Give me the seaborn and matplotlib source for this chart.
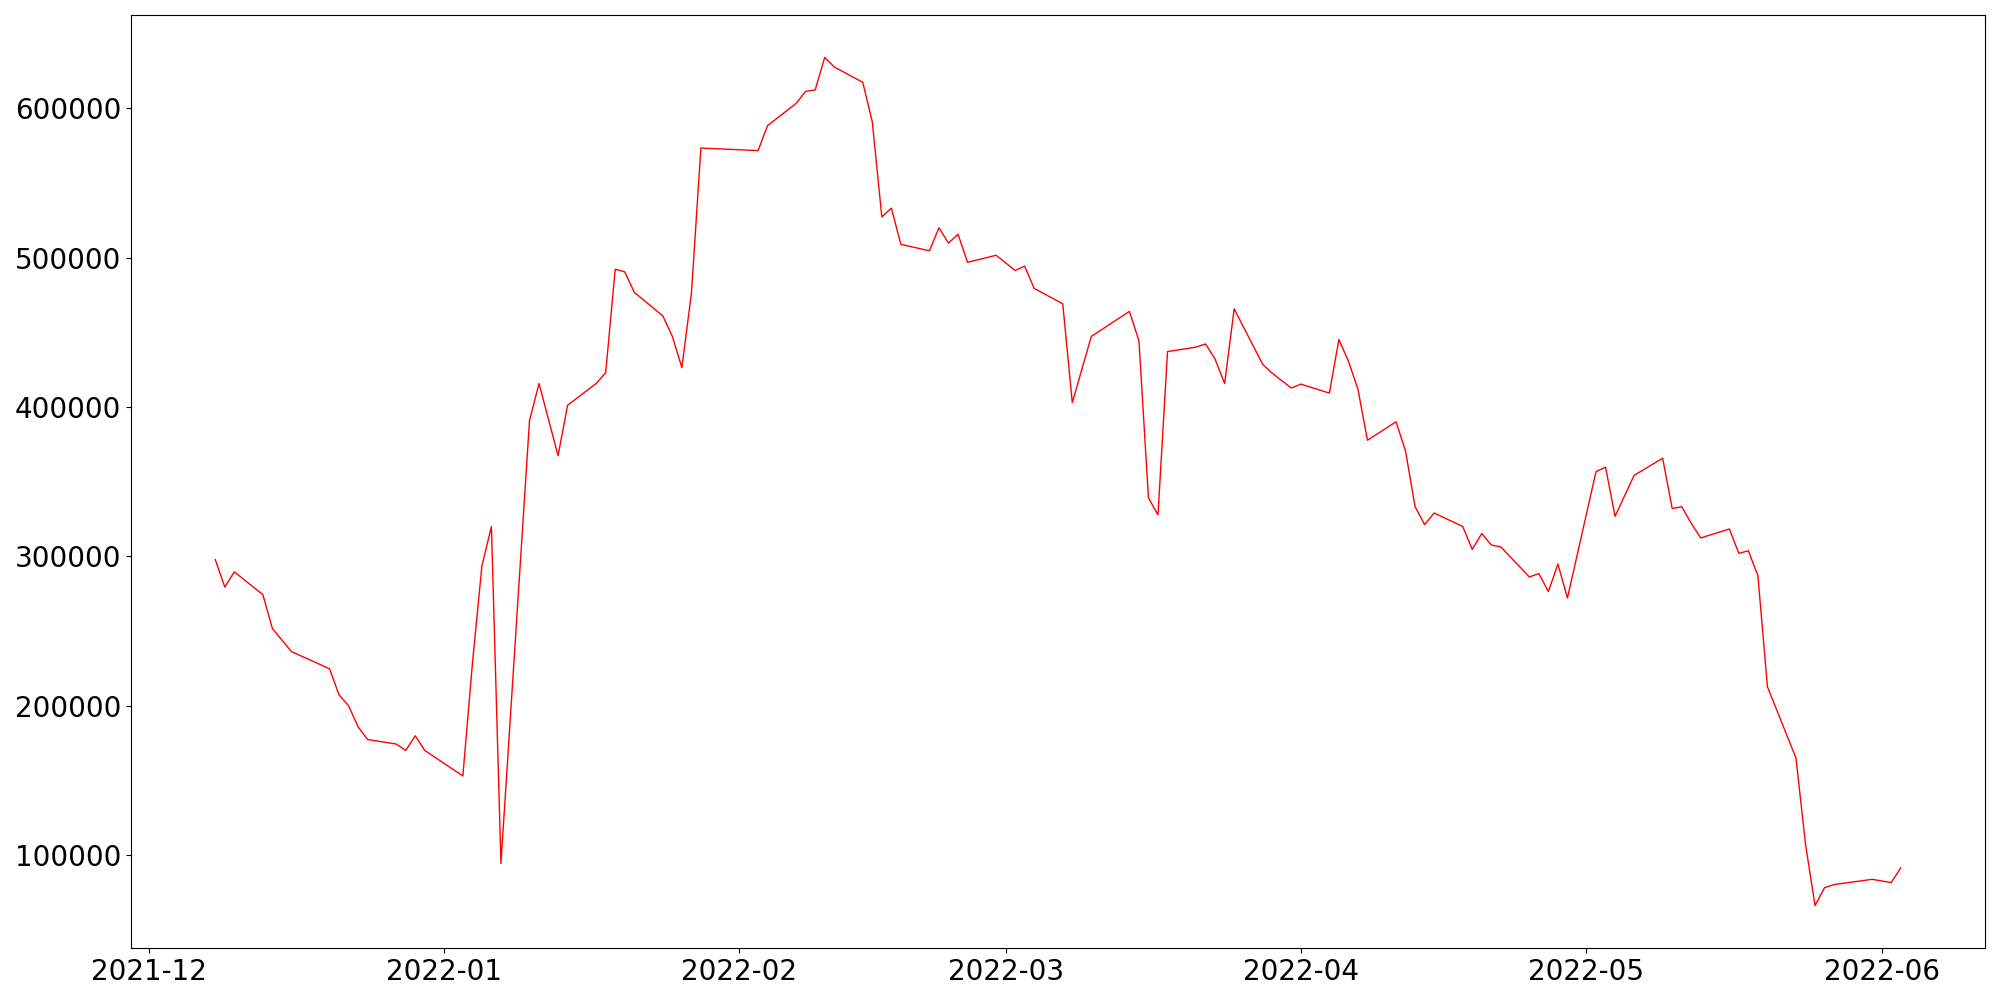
import matplotlib
matplotlib.use("Agg")
import matplotlib.pyplot as plt
import matplotlib.dates as mdates
import pandas as pd
import seaborn as sns

dates = [
    "2021-12-08", "2021-12-09", "2021-12-10", "2021-12-13", "2021-12-14", "2021-12-16",
    "2021-12-20", "2021-12-21", "2021-12-22", "2021-12-23", "2021-12-24", "2021-12-27",
    "2021-12-28", "2021-12-29", "2021-12-30", "2022-01-03", "2022-01-04", "2022-01-05",
    "2022-01-06", "2022-01-07", "2022-01-10", "2022-01-11", "2022-01-13", "2022-01-14",
    "2022-01-17", "2022-01-18", "2022-01-19", "2022-01-20", "2022-01-21", "2022-01-24",
    "2022-01-25", "2022-01-26", "2022-01-27", "2022-01-28", "2022-02-03", "2022-02-04",
    "2022-02-07", "2022-02-08", "2022-02-09", "2022-02-10", "2022-02-11", "2022-02-14",
    "2022-02-15", "2022-02-16", "2022-02-17", "2022-02-18", "2022-02-21", "2022-02-22",
    "2022-02-23", "2022-02-24", "2022-02-25", "2022-02-28", "2022-03-02", "2022-03-03",
    "2022-03-04", "2022-03-07", "2022-03-08", "2022-03-10", "2022-03-14", "2022-03-15",
    "2022-03-16", "2022-03-17", "2022-03-18", "2022-03-21", "2022-03-22", "2022-03-23",
    "2022-03-24", "2022-03-25", "2022-03-28", "2022-03-29", "2022-03-31", "2022-04-01",
    "2022-04-04", "2022-04-05", "2022-04-06", "2022-04-07", "2022-04-08", "2022-04-11",
    "2022-04-12", "2022-04-13", "2022-04-14", "2022-04-15", "2022-04-18", "2022-04-19",
    "2022-04-20", "2022-04-21", "2022-04-22", "2022-04-25", "2022-04-26", "2022-04-27",
    "2022-04-28", "2022-04-29", "2022-05-02", "2022-05-03", "2022-05-04", "2022-05-06",
    "2022-05-09", "2022-05-10", "2022-05-11", "2022-05-12", "2022-05-13", "2022-05-16",
    "2022-05-17", "2022-05-18", "2022-05-19", "2022-05-20", "2022-05-23", "2022-05-24",
    "2022-05-25", "2022-05-26", "2022-05-27", "2022-05-30", "2022-05-31", "2022-06-02",
    "2022-06-03",
]

values = [
    297900, 279500, 289700, 274400, 251700, 236300,
    224800, 207300, 200000, 185900, 177400, 174400,
    170100, 179900, 170100, 153000, 228000, 293600,
    320100, 94400, 391000, 415800, 367500, 401300,
    415800, 423100, 492300, 490600, 476900, 461100,
    447400, 426500, 476100, 573500, 571800, 588500,
    603400, 611500, 612400, 634200, 627800, 617500,
    591000, 527400, 533300, 509000, 504700, 520100,
    509800, 515800, 497000, 501700, 491500, 494400,
    479500, 469200, 403000, 447400, 464100, 444400,
    339300, 327800, 437200, 440200, 442300, 432100,
    415800, 465800, 428600, 422700, 412800, 415400,
    409400, 445300, 430800, 412000, 377800, 390200,
    370500, 333300, 321400, 329100, 320100, 304700,
    315400, 307700, 306400, 286300, 288500, 276500,
    294900, 272200, 356800, 359800, 326900, 354300,
    365800, 332100, 333300, 322200, 312400, 318400,
    302100, 303800, 287200, 212800, 165000, 107300,
    66200, 78200, 80300, 82900, 83800, 81600,
    91500,
]

df = pd.DataFrame({"date": pd.to_datetime(dates), "value": values})

fig, ax = plt.subplots(figsize=(20, 10), dpi=100)
sns.lineplot(data=df, x="date", y="value", ax=ax, color="red", linewidth=1.0)
ax.set_xlabel("")
ax.set_ylabel("")
ax.xaxis.set_major_locator(mdates.MonthLocator())
ax.xaxis.set_major_formatter(mdates.DateFormatter("%Y-%m"))
ax.tick_params(axis="both", labelsize=20)
fig.subplots_adjust(left=0.0655, right=0.9925, top=0.985, bottom=0.052)
fig.savefig("out.png", dpi=100)
